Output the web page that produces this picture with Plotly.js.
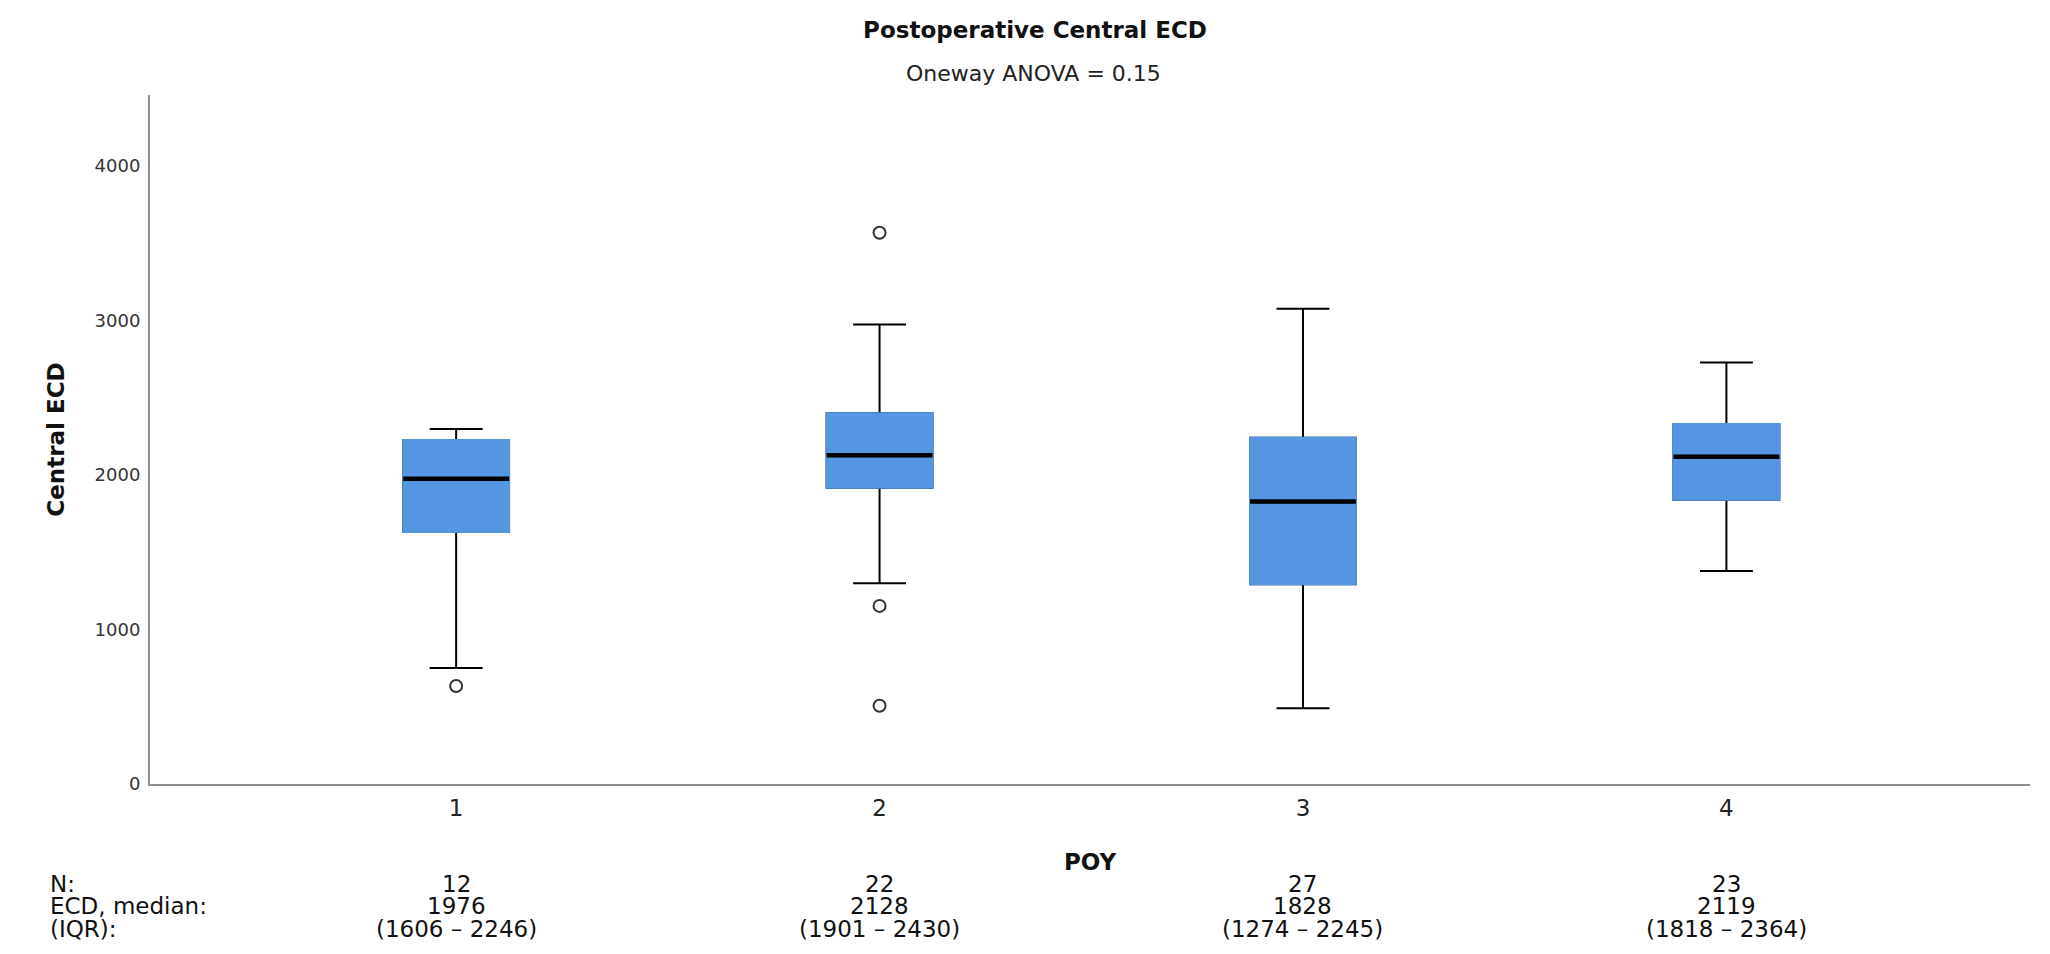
<!DOCTYPE html>
<html>
<head>
<meta charset="utf-8">
<script src="https://cdn.plot.ly/plotly-3.0.1.min.js"></script>
<style>
  html, body { margin: 0; padding: 0; background: #ffffff; }
  #chart { width: 2050px; height: 954px; }
</style>
</head>
<body>
<div id="chart"></div>
<script>
// ---- data ----
const categories   = [1, 2, 3, 4];
const lowerWhisker = [751, 1300, 491, 1378];
const q1Values     = [1631, 1918, 1293, 1840];
const medianValues = [1976, 2128, 1828, 2119];
const q3Values     = [2227, 2400, 2241, 2331];
const upperWhisker = [2298, 2974, 3077, 2729];

const outlierCategory = [1, 2, 2, 2];
const outlierValues   = [634, 3568, 1153, 507];

const nCounts     = [12, 22, 27, 23];
const tableMedian = [1976, 2128, 1828, 2119];
const iqrLow      = [1606, 1901, 1274, 1818];
const iqrHigh     = [2246, 2430, 2245, 2364];

const rowLabels = ["N:", "ECD, median:", "(IQR):"];
const yTicks = [0, 1000, 2000, 3000, 4000];

const titleText = "Postoperative Central ECD";
const subtitleText = "Oneway ANOVA = 0.15";

// ---- styling ----
const FONT = "DejaVu Sans, Lato, sans-serif";
const BLUE = "#5596E2";
const W = 2050, H = 954;
const M = { l: 150, r: 20, t: 95, b: 170 };
const plotH = H - M.t - M.b;
const plotW = W - M.l - M.r;
const pyToPaper = py => (H - M.b - py) / plotH;
const pxToPaper = px => (px - M.l) / plotW;

const boxWidth = 0.25;

const traces = [
  // whiskers, caps and median (black)
  {
    type: "box", x: categories,
    q1: q1Values, median: medianValues, q3: q3Values,
    lowerfence: lowerWhisker, upperfence: upperWhisker,
    width: boxWidth, whiskerwidth: 0.5,
    fillcolor: BLUE, line: { color: "#000000", width: 2 },
    boxpoints: false, hoverinfo: "skip", showlegend: false
  },
  // blue box body covering the black outline
  {
    type: "box", x: categories,
    q1: q1Values, median: q1Values, q3: q3Values,
    lowerfence: q1Values, upperfence: q3Values,
    width: boxWidth, whiskerwidth: 0,
    fillcolor: BLUE, line: { color: BLUE, width: 2 },
    boxpoints: false, hoverinfo: "skip", showlegend: false
  },
  // thick median line
  {
    type: "box", x: categories,
    q1: medianValues, median: medianValues, q3: medianValues,
    lowerfence: medianValues, upperfence: medianValues,
    width: boxWidth, whiskerwidth: 0,
    fillcolor: "#000000", line: { color: "#000000", width: 4.5 },
    boxpoints: false, hoverinfo: "skip", showlegend: false
  },
  // outliers
  {
    type: "scatter", mode: "markers",
    x: outlierCategory, y: outlierValues,
    marker: { symbol: "circle-open", size: 12, color: "#333333", line: { width: 2, color: "#333333" } },
    hoverinfo: "skip", showlegend: false
  }
];

const annotations = [];
// subtitle line under the title
annotations.push({
  xref: "paper", yref: "paper",
  x: pxToPaper(1033), y: pyToPaper(73),
  xanchor: "center", yanchor: "middle",
  text: subtitleText, showarrow: false,
  font: { family: FONT, size: 22, color: "#222222" }
});
const rowY = [884, 906, 929];
rowLabels.forEach((lab, r) => {
  annotations.push({
    xref: "paper", yref: "paper",
    x: pxToPaper(48), y: pyToPaper(rowY[r]),
    xanchor: "left", yanchor: "middle",
    text: lab, showarrow: false,
    font: { family: FONT, size: 23, color: "#111111" }
  });
});
categories.forEach((c, i) => {
  const cells = [String(nCounts[i]), String(tableMedian[i]), "(" + iqrLow[i] + " \u2013 " + iqrHigh[i] + ")"];
  cells.forEach((t, r) => {
    annotations.push({
      xref: "x", yref: "paper",
      x: c, y: pyToPaper(rowY[r]),
      xanchor: "center", yanchor: "middle",
      text: t, showarrow: false,
      font: { family: FONT, size: 23, color: "#111111" }
    });
  });
});

const layout = {
  width: W, height: H,
  margin: M,
  paper_bgcolor: "#ffffff", plot_bgcolor: "#ffffff",
  font: { family: FONT, color: "#222222" },
  title: {
    text: "<b>" + titleText + "</b>",
    font: { family: FONT, size: 23, color: "#111111" },
    xref: "container", x: 1035 / W, xanchor: "center",
    yref: "container", y: 1 - 30 / H, yanchor: "middle"
  },
  boxmode: "overlay",
  showlegend: false,
  xaxis: {
    type: "linear",
    range: [0.277, 4.717],
    tickvals: categories,
    ticktext: categories.map(String),
    ticks: "", showgrid: false, zeroline: false,
    showline: true, linecolor: "#8f8f8f", linewidth: 2,
    ticklabelstandoff: 2,
    tickfont: { family: FONT, size: 23, color: "#222222" },
    title: { text: "<b>POY</b>", font: { family: FONT, size: 23, color: "#111111" }, standoff: 34 }
  },
  yaxis: {
    range: [0, 4460],
    tickvals: yTicks,
    ticks: "", showgrid: false, zeroline: false,
    showline: true, linecolor: "#8f8f8f", linewidth: 2,
    ticklabelstandoff: 4,
    tickfont: { family: FONT, size: 18, color: "#333333" },
    title: { text: "<b>Central ECD</b>", font: { family: FONT, size: 23, color: "#111111" }, standoff: 24 }
  },
  annotations: annotations
};

Plotly.newPlot("chart", traces, layout, { displayModeBar: false, staticPlot: true });
</script>
</body>
</html>
